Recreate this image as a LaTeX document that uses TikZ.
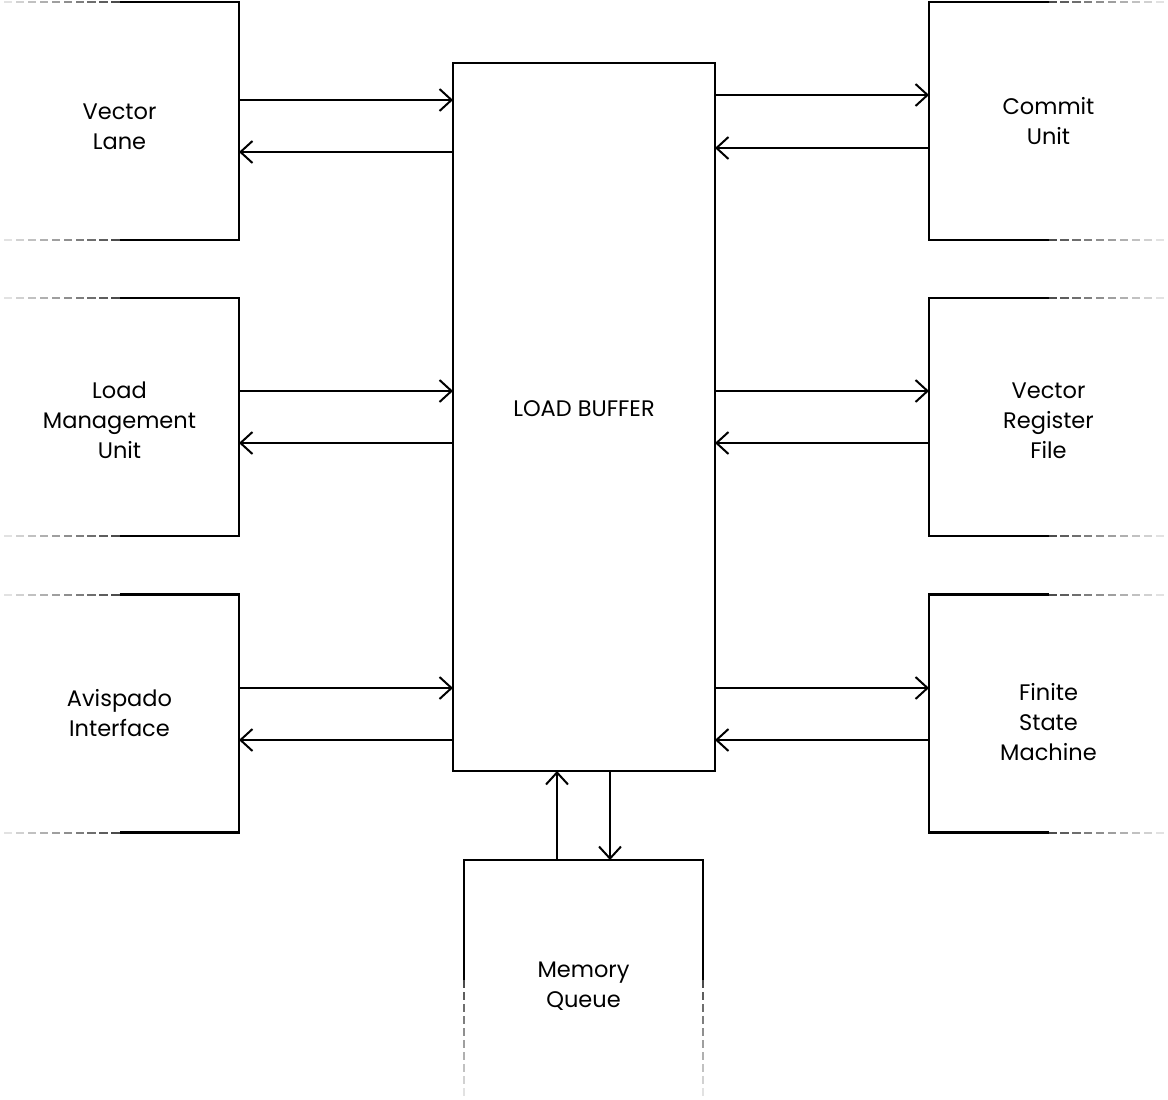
\documentclass[tikz,border=0pt]{standalone}
\usepackage{fontspec}
\setmainfont{Poppins}
\usepackage{tikz}
\usetikzlibrary{arrows.meta, calc}

% faded dashed edge of a cut-off box
\newcommand{\fadeedge}[2]{%
  \foreach \i [evaluate=\i as \s using \i/10,
               evaluate=\i as \e using \i/10+0.068,
               evaluate=\i as \c using 70-6.5*\i] in {0,...,9}
    \draw[line width=2pt, black!\c] ($(#1)!\s!(#2)$) -- ($(#1)!\e!(#2)$);%
}

\begin{document}
\begin{tikzpicture}[
    x=1pt, y=-1pt,
    every node/.style={font=\fontsize{22.5}{30}\selectfont},
    every label/.style={align=center},
    unit/.style={inner sep=0pt, outer sep=0pt, minimum width=239pt, minimum height=238pt},
    edge/.style={line width=2.2pt, line join=miter},
    ar/.style={-{Straight Barb[length=12pt, width=22pt, line width=2pt]}, line width=2.2pt}
]
\useasboundingbox (0,0) rectangle (1168,1100);

% units
\node[unit, label={[yshift=-6pt]center:Vector\\Lane}] (lane) at (119.5,121) {};
\node[unit, label={[yshift=-3pt]center:Load\\Management\\Unit}] (lmu) at (119.5,417) {};
\node[unit, label={center:Avispado\\Interface}] (avis) at (119.5,713.5) {};
\node[unit, label={center:Commit\\Unit}] (commit) at (1048.5,121) {};
\node[unit, label={[yshift=-4pt]center:Vector\\Register\\File}] (vrf) at (1048.5,417) {};
\node[unit, label={[yshift=-9pt]center:Finite\\State\\Machine}] (fsm) at (1048.5,713.5) {};
\node[unit, minimum width=262pt, minimum height=708pt,
      label={[yshift=8pt]center:LOAD BUFFER}] (lbuf) at (584,417) {};
\node[unit, minimum height=240pt, label={[yshift=-6pt]center:Memory\\Queue}] (memq) at (583.5,980) {};

% outlines
\draw[edge] (lbuf.north west) rectangle (lbuf.south east);
\foreach \n in {lane, lmu, avis} {
  \draw[edge] (\n.north) -- (\n.north east) -- (\n.south east) -- (\n.south);
  \fadeedge{\n.north}{\n.north west}
  \fadeedge{\n.south}{\n.south west}
}
\foreach \n in {commit, vrf, fsm} {
  \draw[edge] (\n.north) -- (\n.north west) -- (\n.south west) -- (\n.south);
  \fadeedge{\n.north}{\n.north east}
  \fadeedge{\n.south}{\n.south east}
}
\draw[edge] (memq.west) -- (memq.north west) -- (memq.north east) -- (memq.east);
\fadeedge{memq.west}{memq.south west}
\fadeedge{memq.east}{memq.south east}

% left links
\draw[ar] ([yshift=21pt]lane.east) -- ([yshift=21pt]lane.east -| lbuf.west);
\draw[ar] ([yshift=-31pt]lane.east -| lbuf.west) -- ([yshift=-31pt]lane.east);
\draw[ar] ([yshift=26pt]lmu.east) -- ([yshift=26pt]lmu.east -| lbuf.west);
\draw[ar] ([yshift=-26pt]lmu.east -| lbuf.west) -- ([yshift=-26pt]lmu.east);
\draw[ar] ([yshift=25.5pt]avis.east) -- ([yshift=25.5pt]avis.east -| lbuf.west);
\draw[ar] ([yshift=-26.5pt]avis.east -| lbuf.west) -- ([yshift=-26.5pt]avis.east);

% right links
\draw[ar] ([yshift=26pt]commit.west -| lbuf.east) -- ([yshift=26pt]commit.west);
\draw[ar] ([yshift=-27pt]commit.west) -- ([yshift=-27pt]commit.west -| lbuf.east);
\draw[ar] ([yshift=26pt]vrf.west -| lbuf.east) -- ([yshift=26pt]vrf.west);
\draw[ar] ([yshift=-26pt]vrf.west) -- ([yshift=-26pt]vrf.west -| lbuf.east);
\draw[ar] ([yshift=25.5pt]fsm.west -| lbuf.east) -- ([yshift=25.5pt]fsm.west);
\draw[ar] ([yshift=-26.5pt]fsm.west) -- ([yshift=-26.5pt]fsm.west -| lbuf.east);

% memory links
\draw[ar] ([xshift=-26.5pt]memq.north) -- ([xshift=-26.5pt]memq.north |- lbuf.south);
\draw[ar] ([xshift=26.5pt]memq.north |- lbuf.south) -- ([xshift=26.5pt]memq.north);
\end{tikzpicture}
\end{document}
